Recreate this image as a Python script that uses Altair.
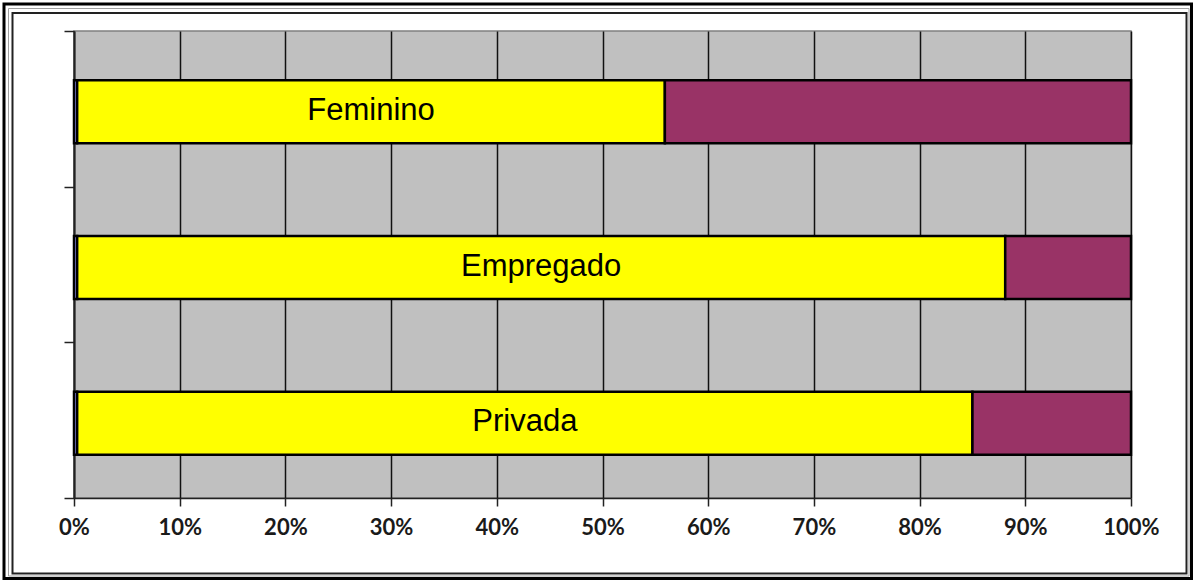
import altair as alt
import pandas as pd

categories = ["Feminino", "Empregado", "Privada"]
series_names = ["Outro", "Sim", "Não"]
blue_vals = [0.3, 0.3, 0.3]
yellow_vals = [55.6, 87.8, 84.7]
purple_vals = [44.1, 11.9, 15.0]
tick_values = [0, 10, 20, 30, 40, 50, 60, 70, 80, 90, 100]
colors = ["#9999FF", "#FFFF00", "#993366"]

rows = []
for i, c in enumerate(categories):
    for j, (s, vals) in enumerate(zip(series_names, [blue_vals, yellow_vals, purple_vals])):
        rows.append({"cat": c, "serie": s, "val": vals[i], "ord": j})
df = pd.DataFrame(rows)

lab = pd.DataFrame({
    "cat": categories,
    "mid": [b + y / 2 for b, y in zip(blue_vals, yellow_vals)],
})

W, H = 1057, 467

yenc = alt.Y("cat:N", sort=categories,
             scale=alt.Scale(paddingInner=0, paddingOuter=0),
             axis=alt.Axis(title="", labels=False, tickBand="extent", tickSize=10,
                           tickColor="#222222", tickWidth=1.5, domainColor="#222222",
                           domainWidth=2, grid=False))

bars = alt.Chart(df).mark_bar(stroke="black", strokeWidth=2.5, yOffset=3,
                              height=alt.RelativeBandSize(0.405)).encode(
    x=alt.X("val:Q", stack="zero",
            scale=alt.Scale(domain=[0, 100], nice=False),
            axis=alt.Axis(title="", values=tick_values, labelExpr="datum.value + '%'",
                          grid=True, gridColor="#111111", gridWidth=1.5,
                          tickColor="#222222", tickSize=8, tickWidth=1.5,
                          domainColor="#222222", domainWidth=1.5, labelFlush=False,
                          labelFont="Lato", labelFontWeight="bold", labelFontSize=22,
                          labelColor="#1a1a1a", labelPadding=11)),
    y=yenc,
    color=alt.Color("serie:N", scale=alt.Scale(domain=series_names, range=colors), legend=None),
    order=alt.Order("ord:Q"),
)

texts = alt.Chart(lab).mark_text(font="Liberation Sans", fontSize=31, color="black",
                                 align="center", baseline="middle", dy=2).encode(
    x=alt.X("mid:Q"),
    y=alt.Y("cat:N", sort=categories),
    text="cat:N",
)

one = pd.DataFrame({"a": [0]})
frame_outer = alt.Chart(one).mark_rect(fill="transparent", stroke="black", strokeWidth=3).encode(
    x=alt.value(-70), x2=alt.value(1117.5), y=alt.value(-27), y2=alt.value(547.5))
frame_mid = alt.Chart(one).mark_rect(fill="transparent", stroke="#a0a0a0", strokeWidth=1).encode(
    x=alt.value(-65.5), x2=alt.value(1115), y=alt.value(-22.5), y2=alt.value(545))
frame_inner = alt.Chart(one).mark_rect(fill="transparent", stroke="#222222", strokeWidth=2).encode(
    x=alt.value(-61.5), x2=alt.value(1112.5), y=alt.value(-18), y2=alt.value(542.5))

chart = alt.layer(bars, texts, frame_outer, frame_mid, frame_inner).properties(
    width=W, height=H,
    autosize=alt.AutoSizeParams(type="none"),
    padding={"left": 74, "top": 31, "right": 64, "bottom": 83},
    background="white",
).configure_view(fill="#C0C0C0", stroke="#808080", strokeWidth=1.5)

chart.save("out.html", embed_options={"renderer": "svg", "actions": False})
